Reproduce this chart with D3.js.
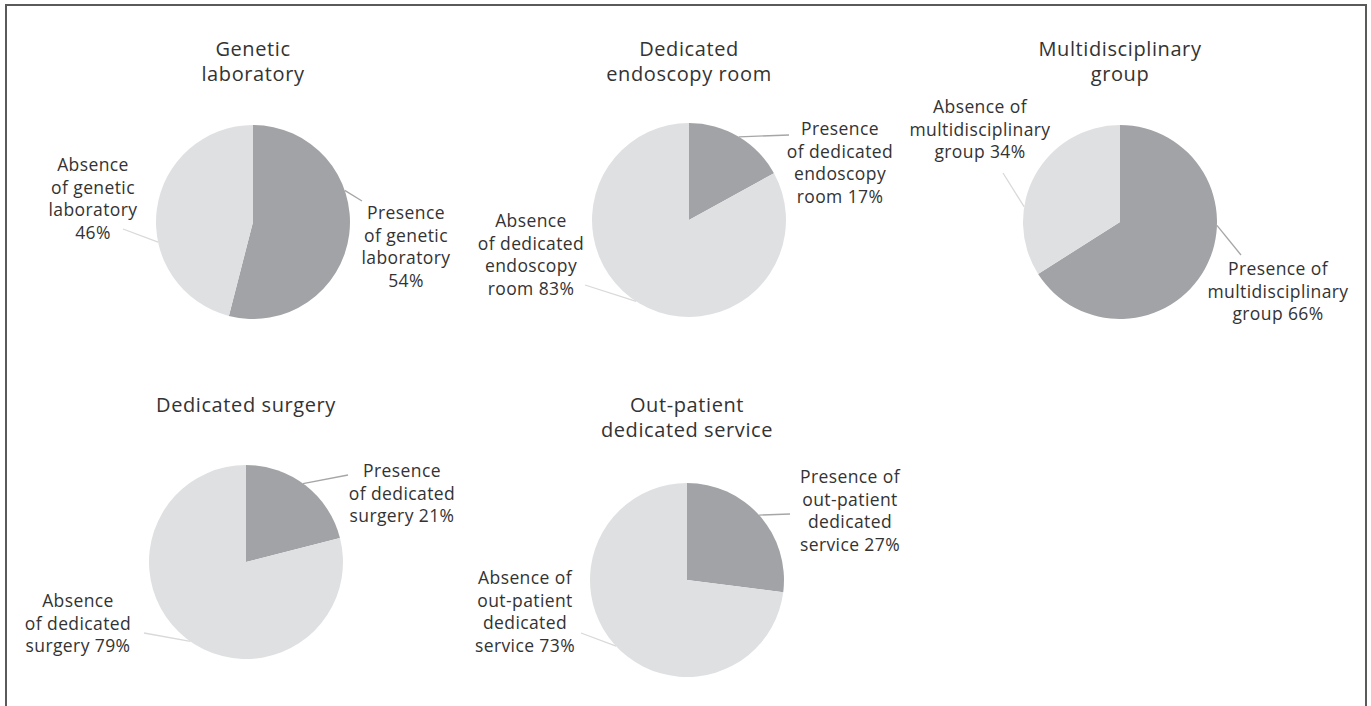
<!DOCTYPE html>
<html lang="en">
<head>
<meta charset="UTF-8">
<title>Facility pies</title>
<style>
  html, body { margin: 0; background: #fff; }
  text { font-family: 'Open Sans', 'Noto Sans', sans-serif; fill: #333; }
  .title { font-size: 20px; letter-spacing: 0.6px; }
  .lbl { font-size: 17.5px; letter-spacing: 0.4px; }
</style>
</head>
<body>
<svg id="chart" width="1371" height="706" viewBox="0 0 1371 706"></svg>
<script src="https://d3js.org/d3.v7.min.js"></script>
<script>
// ---- data ----
const titles = [
  ["Genetic", "laboratory"],
  ["Dedicated", "endoscopy room"],
  ["Multidisciplinary", "group"],
  ["Dedicated surgery"],
  ["Out-patient", "dedicated service"]
];
const presence = [54, 17, 66, 21, 27];
const absence  = [46, 83, 34, 79, 73];
const presenceLabels = [
  ["Presence", "of genetic", "laboratory", "54%"],
  ["Presence", "of dedicated", "endoscopy", "room 17%"],
  ["Presence of", "multidisciplinary", "group 66%"],
  ["Presence", "of dedicated", "surgery 21%"],
  ["Presence of", "out-patient", "dedicated", "service 27%"]
];
const absenceLabels = [
  ["Absence", "of genetic", "laboratory", "46%"],
  ["Absence", "of dedicated", "endoscopy", "room 83%"],
  ["Absence of", "multidisciplinary", "group 34%"],
  ["Absence", "of dedicated", "surgery 79%"],
  ["Absence of", "out-patient", "dedicated", "service 73%"]
];

// ---- layout (centres, label anchors relative to the centre, leader angles in degrees) ----
const layout = [
  {cx: 253, cy: 222, titleY: 56,
   p: {ang: 71,  end: [109, -21], at: [153, -3]},
   a: {ang: 258, end: [-130, 7],  at: [-160, -51]}},
  {cx: 689, cy: 220, titleY: 56,
   p: {ang: 31,  end: [100, -85], at: [151, -85]},
   a: {ang: 213, end: [-104, 65], at: [-158, 7]}},
  {cx: 1120, cy: 222, titleY: 56,
   p: {ang: 92,  end: [121, 33],  at: [158, 53]},
   a: {ang: 279, end: [-117, -49], at: [-140, -109]}},
  {cx: 246, cy: 562, titleY: 412,
   p: {ang: 36,  end: [102, -87], at: [156, -85]},
   a: {ang: 215, end: [-102, 71], at: [-168, 45]}},
  {cx: 687, cy: 580, titleY: 412,
   p: {ang: 48,  end: [103, -66], at: [163, -97]},
   a: {ang: 227, end: [-106, 53], at: [-162, 4]}}
];

const R = 97;
const lineH = 22.5;
const fills = {p: "#a2a3a6", a: "#dfe0e2"};
const leaders = {p: "#a6a6a6", a: "#d9d9d9"};

const svg = d3.select("#chart");

// frame (open at the bottom)
svg.append("path")
  .attr("d", "M6,706V5H1366V706")
  .attr("fill", "none")
  .attr("stroke", "#5a5a5a")
  .attr("stroke-width", 2);

const pie = d3.pie().sort(null).value(d => d.v);
const arc = d3.arc().innerRadius(0).outerRadius(R);

titles.forEach((t, i) => {
  const L = layout[i];
  const g = svg.append("g").attr("transform", "translate(" + L.cx + "," + L.cy + ")");

  const slices = pie([{k: "p", v: presence[i]}, {k: "a", v: absence[i]}]);
  g.selectAll("path.slice")
    .data(slices)
    .join("path")
    .attr("class", "slice")
    .attr("d", arc)
    .attr("fill", d => fills[d.data.k]);

  // title
  svg.append("text")
    .attr("class", "title")
    .attr("text-anchor", "middle")
    .attr("x", L.cx)
    .attr("y", L.titleY)
    .selectAll("tspan")
    .data(t)
    .join("tspan")
    .attr("x", L.cx)
    .attr("dy", (d, j) => j === 0 ? 0 : 24.5)
    .text(d => d);

  // labels + leader lines
  [["p", presenceLabels[i]], ["a", absenceLabels[i]]].forEach(([k, lines]) => {
    const cfg = L[k];
    const start = d3.pointRadial(cfg.ang * Math.PI / 180, R);
    g.append("line")
      .attr("x1", start[0]).attr("y1", start[1])
      .attr("x2", cfg.end[0]).attr("y2", cfg.end[1])
      .attr("stroke", leaders[k])
      .attr("stroke-width", 1.3);

    g.append("text")
      .attr("class", "lbl")
      .attr("text-anchor", "middle")
      .attr("x", cfg.at[0])
      .attr("y", cfg.at[1])
      .selectAll("tspan")
      .data(lines)
      .join("tspan")
      .attr("x", cfg.at[0])
      .attr("dy", (d, j) => j === 0 ? 0 : lineH)
      .text(d => d);
  });
});
</script>
</body>
</html>
